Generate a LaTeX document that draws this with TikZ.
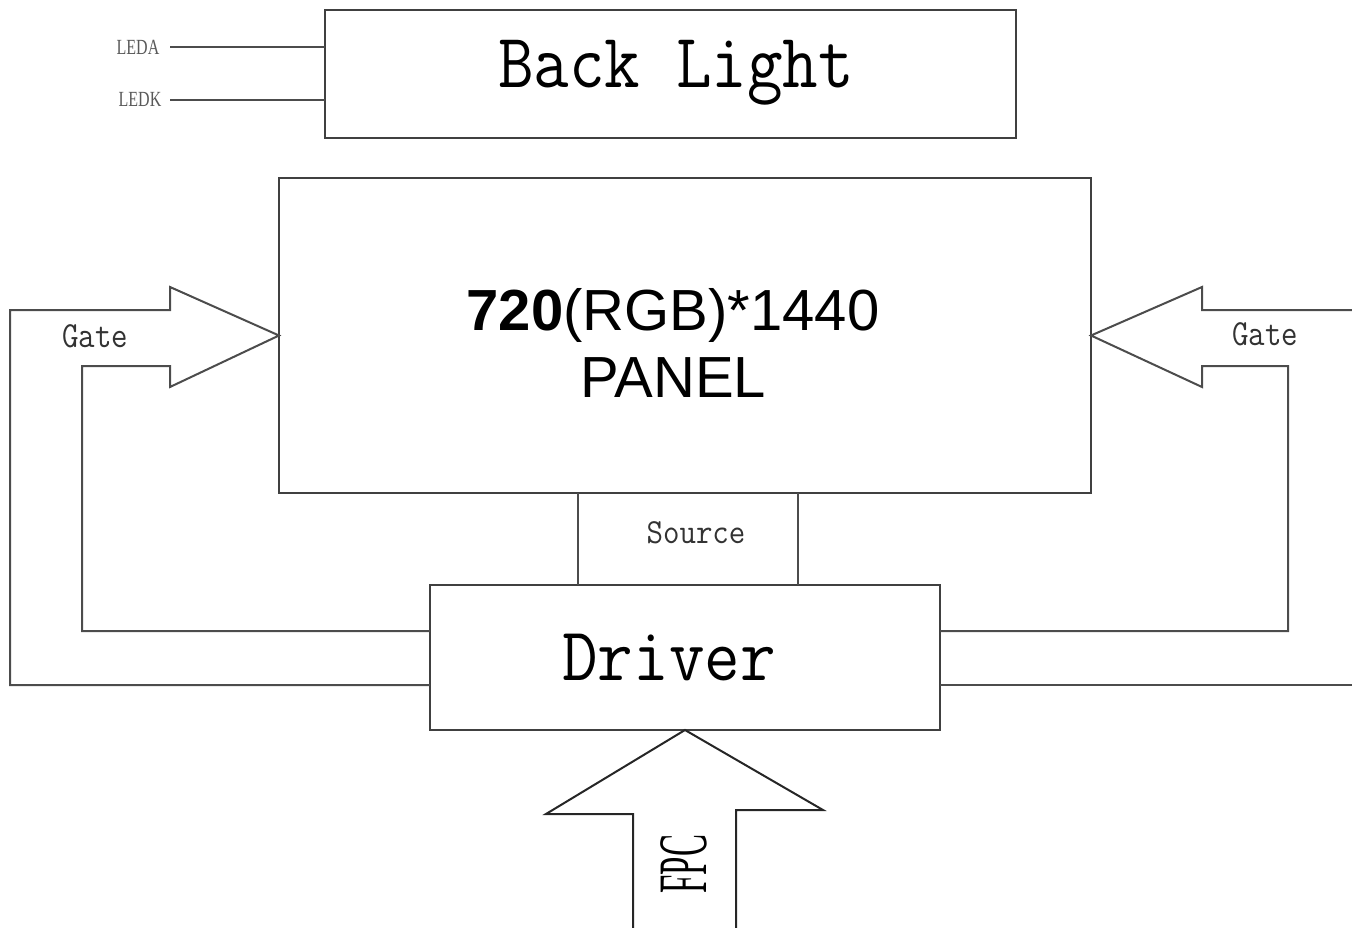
\documentclass[tikz,border=0pt]{standalone}
\usepackage{fontspec}
\usepackage{graphicx}
\newfontfamily\seriffnt{Liberation Serif}
\newfontfamily\sansfnt{Liberation Sans}
\begin{document}
\begin{tikzpicture}[x=1pt,y=-1pt,
  box/.style={draw=black!75,line width=2pt,inner sep=0pt,outer sep=0pt},
  wire/.style={draw=black!70,line width=2pt,line join=miter},
  bigmono/.style={anchor=base,inner sep=0pt,font=\ttfamily\fontsize{69}{69}\selectfont},
  smallmono/.style={anchor=base,inner sep=0pt,text=black!80,font=\ttfamily\fontsize{32}{32}\selectfont},
  ledlbl/.style={anchor=base,inner sep=0pt,text=black!65,font=\seriffnt\fontsize{16}{16}\selectfont}]
\useasboundingbox (0,0) rectangle (1352,928);
% boxes
\node[box,minimum width=691pt,minimum height=128pt] (BL) at (670.5,74) {};
\node[box,minimum width=812pt,minimum height=315pt] (P) at (685,335.5) {};
\node[box,minimum width=510pt,minimum height=145pt] (D) at (685,657.5) {};
% texts
\node[bigmono] (blt) at (676,88) {\scalebox{1}[1.12]{Back Light}};
\node[bigmono] (drt) at (669,680) {\scalebox{1}[1.1]{Driver}};
\node[anchor=base,inner sep=0pt,font=\sansfnt\fontsize{58}{58}\selectfont] (pt1) at (673,330) {\textbf{720}(RGB)*1440};
\node[anchor=base,inner sep=0pt,font=\sansfnt\fontsize{58}{58}\selectfont] (pt2) at (673,397) {PANEL};
\node[smallmono] (g1) at (95,347) {\scalebox{1}[1.15]{Gate}};
\node[smallmono] (g2) at (1265,345) {\scalebox{1}[1.15]{Gate}};
\node[smallmono] (src) at (696,543) {\scalebox{1}[1.1]{Source}};
% LED lines
\node[ledlbl] (leda) at (138,55) {\scalebox{1}[1.35]{LEDA}};
\node[ledlbl] (ledk) at (140,107) {\scalebox{1}[1.35]{LEDK}};
\coordinate (la) at (170,47);
\coordinate (lk) at (170,100);
\draw[wire] (la) -- (BL.west |- la);
\draw[wire] (lk) -- (BL.west |- lk);
% source lines
\coordinate (s1) at (578,0);
\coordinate (s2) at (798,0);
\draw[wire] (P.south -| s1) -- (D.north -| s1);
\draw[wire] (P.south -| s2) -- (D.north -| s2);
% left gate arrow
\coordinate (lo) at (10,310);
\coordinate (lb1) at (170,310);
\coordinate (lb2) at (170,287);
\coordinate (lb3) at (170,387);
\coordinate (lb4) at (170,366);
\coordinate (li) at (82,631);
\coordinate (ybot) at (0,685);
\draw[wire] (D.west |- ybot) -| (lo) -- (lb1) -- (lb2) -- (P.west) -- (lb3) -- (lb4) -| (li) -- (D.west |- li);
% right gate arrow
\coordinate (ro) at (1356,310);
\coordinate (rb1) at (1202,310);
\coordinate (rb2) at (1202,287);
\coordinate (rb3) at (1202,387);
\coordinate (rb4) at (1202,366);
\coordinate (ri) at (1288,631);
\coordinate (re) at (1356,685);
\draw[wire] (ro) -- (rb1) -- (rb2) -- (P.east) -- (rb3) -- (rb4) -| (ri) -- (D.east |- ri);
\draw[wire] (D.east |- re) -- (re);
% FPC arrow
\coordinate (f1) at (633,932);
\coordinate (f2) at (633,814);
\coordinate (f3) at (546,814);
\coordinate (f4) at (823,810);
\coordinate (f5) at (736,810);
\coordinate (f6) at (736,932);
\draw[wire,draw=black!85] (f1) -- (f2) -- (f3) -- (D.south) -- (f4) -- (f5) -- (f6);
\node[inner sep=0pt,rotate=90,font=\seriffnt\fontsize{33}{33}\selectfont] (fpc) at (684,864) {\scalebox{1}[2.1]{FPC}};
\end{tikzpicture}
\end{document}
